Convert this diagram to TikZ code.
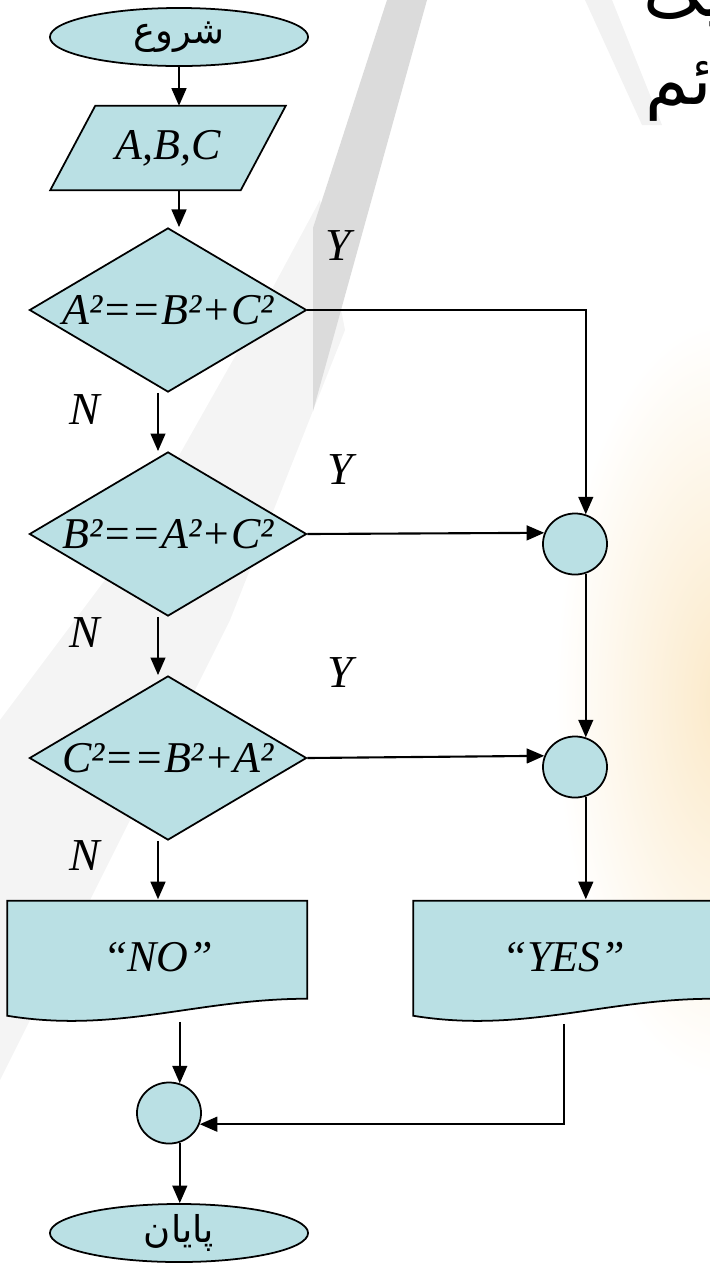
\documentclass[tikz,border=0pt]{standalone}
\usepackage{fontspec}
\setmainfont{Liberation Serif}
\newfontfamily\arabicfont[Script=Arabic]{DejaVu Sans}
\TeXXeTstate=1
\usetikzlibrary{arrows.meta,shapes.geometric,calc}
\definecolor{flowblue}{RGB}{186,224,228}
\definecolor{glow}{RGB}{251,233,200}
\pgfdeclarelayer{deco}
\pgfdeclarelayer{paper}
\pgfsetlayers{deco,paper,main}

\begin{document}
\begin{tikzpicture}[x=0.01cm, y=-0.01cm,
    term/.style={ellipse, draw, fill=flowblue, line width=0.5pt,
                 minimum width=2.58cm, minimum height=0.58cm, inner sep=0pt,
                 font=\arabicfont\fontsize{10.5}{12}\selectfont},
    inout/.style={rectangle, minimum width=1.89cm, minimum height=0.83cm, inner sep=0pt,
                  font=\fontsize{12.5}{14}\selectfont\itshape},
    decision/.style={diamond, shape aspect=1.69, draw, fill=flowblue, line width=0.5pt,
                     minimum width=2.77cm, minimum height=1.64cm, inner sep=0pt,
                     font=\fontsize{12.5}{14}\selectfont\itshape},
    joint/.style={ellipse, draw, fill=flowblue, line width=0.5pt,
                  minimum width=0.64cm, minimum height=0.61cm, inner sep=0pt},
    docbox/.style={rectangle, minimum width=3cm, minimum height=1.15cm, inner sep=0pt,
                   font=\fontsize{12.5}{14}\selectfont\itshape},
    paperfill/.style={draw, fill=flowblue, line width=0.5pt},
    yn/.style={font=\fontsize{13}{15}\selectfont\itshape},
    heading/.style={font=\arabicfont\fontsize{20}{24}\selectfont, inner sep=0pt},
    arrow/.style={-{Triangle[length=5pt,width=4.2pt]}, line width=0.6pt}
]
    \useasboundingbox (0,0) rectangle (710,1266);

    % Slide background
    \begin{pgfonlayer}{deco}
        \shade[inner color=glow, outer color=white] (725,700) ellipse [x radius=1.7cm, y radius=3.8cm];
        \fill[gray!9] (320,200) -- (345,330) -- (230,620) -- (90,900) -- (0,1080)
            -- (0,720) -- (120,560) -- (250,330) -- cycle;
        \fill[gray!28] (387,0) -- (427,0) -- (313,411) -- (313,228) -- cycle;
        \fill[gray!10] (585,0) -- (612,0) -- (662,125) -- (642,125) -- cycle;
    \end{pgfonlayer}

    % Title, cut off at the right edge
    \node[heading, anchor=base west] (h1) at (643,16) {\beginR یک\endR};
    \node[heading, anchor=base west] (h2) at (645,104) {\beginR قائم\endR};

    % Start and input
    \node[term] (start) at (179,37) {\beginR شروع\endR};
    \node[inout] (io) at (168,148) {A,B,C};

    % Three tests
    \node[decision] (d1) at (168,310) {A²==B²+C²};
    \node[decision] (d2) at (168,534) {B²==A²+C²};
    \node[decision] (d3) at (168,758) {C²==B²+A²};

    % Connectors on the right
    \node[joint] (c1) at (575,544) {};
    \node[joint] (c2) at (575,767) {};

    % Outputs
    \node[docbox] (no) at (158,957.5) {“NO”};
    \node[docbox] (yes) at (564,957.5) {“YES”};

    % Shapes behind the texts
    \begin{pgfonlayer}{paper}
        \path[paperfill] ($(io.south west)+(-22.5,0)$) -- ($(io.north west)+(22.5,0)$)
            -- ($(io.north east)+(22.5,0)$) -- ($(io.south east)+(-22.5,0)$) -- cycle;
        \path[paperfill, shift={(no.south west)}] (0,0) -- (0,-115) -- (300,-115) -- (300,-17)
            .. controls (190,-17) and (110,18) .. (0,0) -- cycle;
        \path[paperfill, shift={(yes.south west)}] (0,0) -- (0,-115) -- (300,-115) -- (300,-17)
            .. controls (190,-17) and (110,18) .. (0,0) -- cycle;
    \end{pgfonlayer}

    % Merge and end
    \node[joint] (m) at (169,1113) {};
    \node[term] (end) at (179,1233) {\beginR پایان\endR};

    % Y / N labels
    \node[yn] (y1) at (338,246) {Y};
    \node[yn] (y2) at (340,470) {Y};
    \node[yn] (y3) at (340,673) {Y};
    \node[yn] (n1) at (85,410) {N};
    \node[yn] (n2) at (85,633) {N};
    \node[yn] (n3) at (85,856) {N};

    % Main column
    \draw[arrow] (start) -- (start |- io.north);
    \draw[arrow] (io.south -| start) -- (start |- d1.north);
    \draw[arrow] ($(d1.south)+(-10,0)$) -- ($(d2.north)+(-10,0)$);
    \draw[arrow] ($(d2.south)+(-10,0)$) -- ($(d3.north)+(-10,0)$);
    \draw[arrow] ($(d3.south)+(-10,0)$) -- (no.north);

    % Yes branches
    \draw[arrow] (d1.east) -| (c1.70);
    \draw[arrow] (d2.east) -- (c1.160);
    \draw[arrow] (c1.-70) -- (c2.70);
    \draw[arrow] (d3.east) -- (c2.160);
    \draw[arrow] (c2.-70) -- (c2.-70 |- yes.north);

    % Back together
    \draw[arrow] ($(no.south -| m.70)+(0,6)$) -- (m.70);
    \draw[arrow] ($(yes.south)+(0,8)$) |- (m.-20);
    \draw[arrow] (m.-70) -- (m.-70 |- end.north);
\end{tikzpicture}
\end{document}
